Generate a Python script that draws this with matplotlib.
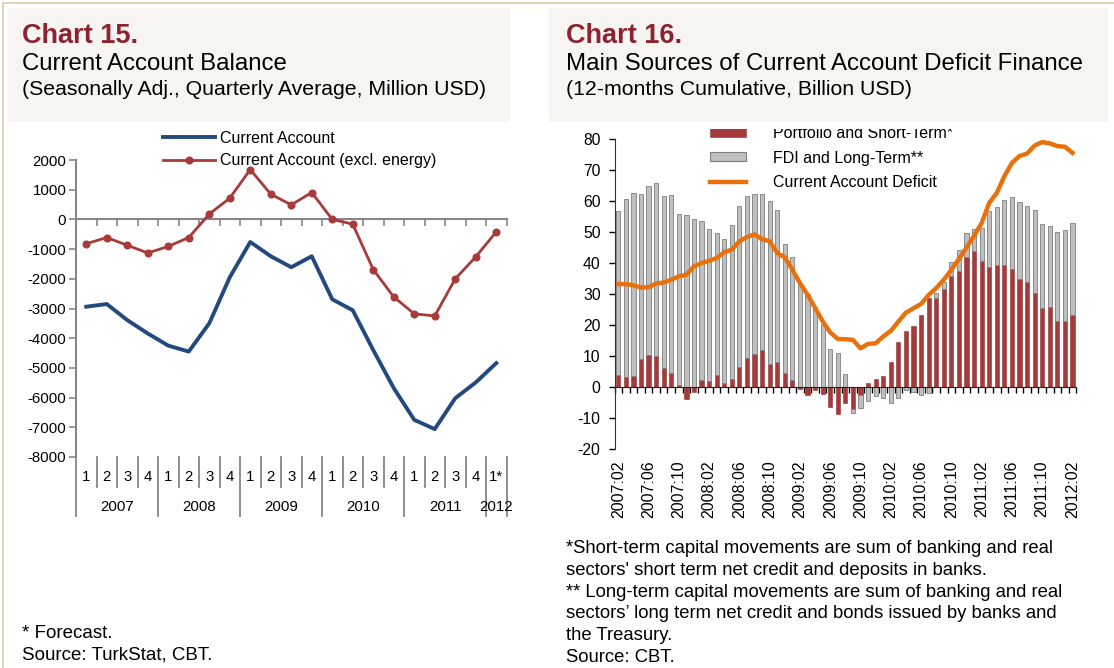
import numpy as np
import matplotlib
matplotlib.use("Agg")
from matplotlib import pyplot as plt
from matplotlib.patches import Rectangle, Patch
from matplotlib.lines import Line2D

# ── Data: Chart 15 (quarterly, million USD) ──────────────────────────────────
quarters = ["1", "2", "3", "4"] * 5 + ["1*"]
years = ["2007", "2008", "2009", "2010", "2011", "2012"]
current_account = [-2940, -2850, -3390, -3840, -4250, -4450, -3500, -1950,
                   -760, -1240, -1610, -1240, -2690, -3060, -4400, -5680,
                   -6750, -7060, -6020, -5490, -4840]
current_account_ex_energy = [-820, -610, -870, -1130, -910, -610, 180, 715,
                             1680, 850, 490, 905, 0, -160, -1690, -2610,
                             -3180, -3250, -2000, -1260, -420]

# ── Data: Chart 16 (monthly 2007:02 - 2012:02, billion USD) ──────────────────
portfolio_short = [3.9, 3.2, 3.7, 8.9, 10.3, 10.1, 6.1, 4.5, 0.5, -4.0,
                   -1.5, 2.3, 2.0, 3.9, 1.2, 2.5, 6.3, 9.5, 10.6, 11.9,
                   7.3, 8.2, 4.6, 2.3, -0.8, -2.6, -1.0, -2.4, -6.4, -8.8,
                   -5.1, -7.2, -2.6, 1.2, 2.6, 3.7, 8.2, 14.4, 18.1, 19.7,
                   23.1, 28.7, 28.7, 31.6, 35.9, 37.3, 41.9, 43.8, 40.8, 38.6,
                   39.5, 39.5, 38.0, 35.0, 33.8, 30.3, 25.4, 25.9, 21.2, 21.4,
                   23.2]
fdi_long = [53.0, 57.6, 58.9, 53.2, 54.4, 55.7, 55.5, 57.4, 55.3, 55.4,
            54.1, 51.4, 49.1, 45.9, 46.5, 49.7, 52.2, 52.0, 51.5, 50.2,
            52.7, 49.0, 41.4, 39.6, 33.0, 30.0, 25.8, 20.3, 12.3, 10.9,
            4.3, -1.3, -4.2, -4.4, -2.9, -3.7, -5.0, -3.7, -1.0, -1.6,
            -2.6, -1.8, 1.6, 2.2, 4.4, 7.0, 7.8, 7.2, 10.5, 18.3,
            18.6, 20.7, 23.2, 24.6, 24.6, 26.7, 27.2, 26.1, 28.9, 29.2,
            29.7]
ca_deficit = [33.2, 33.2, 32.8, 32.1, 32.2, 33.4, 33.7, 34.6, 35.7, 36.2,
              38.9, 40.0, 40.7, 41.6, 43.5, 44.3, 47.0, 48.4, 49.2, 47.7,
              47.0, 43.2, 41.8, 37.8, 33.5, 29.8, 25.5, 21.2, 17.6, 15.5,
              15.4, 15.2, 12.5, 13.9, 14.1, 16.3, 18.1, 21.1, 24.0, 25.4,
              26.8, 29.7, 31.9, 34.6, 37.8, 41.3, 45.0, 48.8, 52.9, 59.4,
              62.6, 68.0, 72.3, 74.5, 75.3, 77.9, 79.0, 78.6, 77.7, 77.5,
              75.5]
month_labels = ["2007:02", "2007:06", "2007:10", "2008:02", "2008:06",
                "2008:10", "2009:02", "2009:06", "2009:10", "2010:02",
                "2010:06", "2010:10", "2011:02", "2011:06", "2011:10",
                "2012:02"]

notes_16 = [
    "*Short-term capital movements are sum of banking and real",
    "sectors' short term net credit and deposits in banks.",
    "** Long-term capital movements are sum of banking and real",
    "sectors\u2019 long term net credit and bonds issued by banks and",
    "the Treasury.",
    "Source: CBT.",
]
notes_15 = ["* Forecast.", "Source: TurkStat, CBT."]

# ── Style ─────────────────────────────────────────────────────────────────────
plt.rcParams.update({
    "font.family": "Liberation Sans",
    "axes.unicode_minus": False,
    "font.size": 10.5,
})

W, H = 1114, 668
TITLE_RED = "#8C2332"
AXIS_GRAY = "#868686"
BLUE = "#23497E"
RED_LINE = "#A83A3A"
BAR_RED = "#A63A3A"
BAR_GRAY = "#BFBFBF"
ORANGE = "#E8710E"


def fx(px):
    return px / W


def fy(py):
    return 1 - py / H


fig = plt.figure(figsize=(W / 100, H / 100), dpi=100)
fig.patch.set_facecolor("white")

# frame lines and title panels
fig.add_artist(Line2D([fx(3), fx(3)], [0, fy(3)], color="#D9CBAA", lw=1.2))
fig.add_artist(Line2D([fx(3), 1], [fy(3), fy(3)], color="#D9CBAA", lw=1.2))
for x0, x1 in [(8, 510), (549, 1108)]:
    fig.add_artist(Rectangle((fx(x0), fy(122)), fx(x1 - x0), 114 / H,
                             facecolor="#F6F5F1", edgecolor="none", zorder=0))

# titles
for x0, head, title, sub in [
    (22, "Chart 15.", "Current Account Balance",
     "(Seasonally Adj., Quarterly Average, Million USD)"),
    (566, "Chart 16.", "Main Sources of Current Account Deficit Finance",
     "(12-months Cumulative, Billion USD)"),
]:
    fig.text(fx(x0), fy(43), head, color=TITLE_RED, fontsize=19.5,
             fontweight="bold", va="baseline")
    fig.text(fx(x0), fy(70), title, fontsize=17.3, va="baseline")
    fig.text(fx(x0), fy(95), sub, fontsize=15.3, va="baseline")

# ── Chart 15 ──────────────────────────────────────────────────────────────────
ax1 = fig.add_axes([fx(76), fy(457), fx(430.5), 297 / H])
xq = np.arange(len(current_account))
ax1.plot(xq, current_account, color=BLUE, lw=2.8, solid_joinstyle="round",
         label="Current Account", zorder=3)
ax1.plot(xq, current_account_ex_energy, color=RED_LINE, lw=2.0, marker="o",
         ms=4.8, label="Current Account (excl. energy)", zorder=4)
ax1.set_xlim(-0.5, len(xq) - 0.5)
ax1.set_ylim(-8000, 2000)
ax1.set_yticks(np.arange(-8000, 2001, 1000))
ax1.set_yticklabels([str(v) for v in range(-8000, 2001, 1000)])
ax1.set_xticks(np.arange(-0.5, len(xq), 1))
ax1.set_xticklabels([])
for s in ["top", "right"]:
    ax1.spines[s].set_visible(False)
ax1.spines["bottom"].set_position(("data", 0))
for s in ["left", "bottom"]:
    ax1.spines[s].set_color(AXIS_GRAY)
    ax1.spines[s].set_linewidth(1.5)
ax1.tick_params(axis="both", direction="out", length=5, width=1.2,
                color=AXIS_GRAY, labelsize=10.8)
ax1.tick_params(axis="y", pad=2)
ax1.set_facecolor("none")

# multi-level category labels below the plot
tr = ax1.get_xaxis_transform()
for i, q in enumerate(quarters):
    ax1.text(i, -0.067, q, transform=tr, ha="center", va="center",
             fontsize=10.8)
for k in range(len(xq) + 1):
    long_sep = (k % 4 == 0) or k == len(xq)
    ax1.plot([k - 0.5, k - 0.5], [0, -0.199 if long_sep else -0.101],
             transform=tr, color=AXIS_GRAY, lw=1.3, clip_on=False)
for j, yr in enumerate(years):
    start = j * 4
    end = min(start + 4, len(xq))
    ax1.text((start + end - 1) / 2, -0.168, yr, transform=tr, ha="center",
             va="center", fontsize=10.8)

ax1.legend(loc="upper left", bbox_to_anchor=(fx(163), fy(131)),
           bbox_transform=fig.transFigure, frameon=False, fontsize=11.5,
           handlelength=3.25, handletextpad=0.3, labelspacing=0.45,
           borderpad=0, borderaxespad=0)

for i, line in enumerate(notes_15):
    fig.text(fx(22), fy(638 + 22 * i), line, fontsize=13.5, va="baseline")

# ── Chart 16 ──────────────────────────────────────────────────────────────────
ax2 = fig.add_axes([fx(614.5), fy(449), fx(461.8), 310 / H])
xm = np.arange(len(portfolio_short))
red = np.array(portfolio_short)
gray = np.array(fdi_long)
gray_bottom = np.where(np.sign(red) == np.sign(gray), red, 0.0)
ax2.bar(xm, red, width=0.55, color=BAR_RED, edgecolor="#8E3030", lw=0.4,
        zorder=2)
ax2.bar(xm, gray, width=0.55, bottom=gray_bottom, color=BAR_GRAY,
        edgecolor="#7F7F7F", lw=0.6, zorder=2)
ax2.plot(xm, ca_deficit, color=ORANGE, lw=3.2, solid_joinstyle="round",
         zorder=4)
ax2.set_xlim(-0.5, len(xm) - 0.5)
ax2.set_ylim(-20, 80)
ax2.set_yticks(np.arange(-20, 81, 10))
ax2.set_xticks(np.arange(-0.5, len(xm), 1))
ax2.set_xticklabels([])
for s in ["top", "right"]:
    ax2.spines[s].set_visible(False)
ax2.spines["bottom"].set_position(("data", 0))
ax2.spines["left"].set_color("#333333")
ax2.spines["bottom"].set_color("#222222")
ax2.tick_params(axis="both", direction="out", length=4, width=1,
                labelsize=11.3)
ax2.tick_params(axis="y", pad=6)
ax2.set_facecolor("none")

tr2 = ax2.get_xaxis_transform()
for i, lab in enumerate(month_labels):
    ax2.text(i * 4, -0.036, lab, transform=tr2, rotation=90, ha="center",
             va="top", fontsize=11.5)

handles = [
    Patch(facecolor=BAR_RED, edgecolor="#8E3030", lw=0.4),
    Patch(facecolor=BAR_GRAY, edgecolor="#7F7F7F", lw=0.8),
    Line2D([], [], color=ORANGE, lw=3.2),
]
labels = ["Portfolio and Short-Term*", "FDI and Long-Term**",
          "Current Account Deficit"]
ax2.legend(handles, labels, loc="upper left",
           bbox_to_anchor=(fx(710), fy(126)), bbox_transform=fig.transFigure,
           frameon=False, fontsize=11.5, handlelength=2.25, handleheight=0.5,
           handletextpad=1.7, labelspacing=0.6, borderpad=0,
           borderaxespad=0)
# the top of the legend is cut by the panel edge in the original
fig.add_artist(Rectangle((fx(700), fy(129)), fx(270), 7 / H,
                         facecolor="white", edgecolor="none", zorder=10))

for i, line in enumerate(notes_16):
    fig.text(fx(566), fy(553 + 21.8 * i), line, fontsize=13.3,
             va="baseline")

fig.savefig("out.png", dpi=100, facecolor=fig.get_facecolor())
